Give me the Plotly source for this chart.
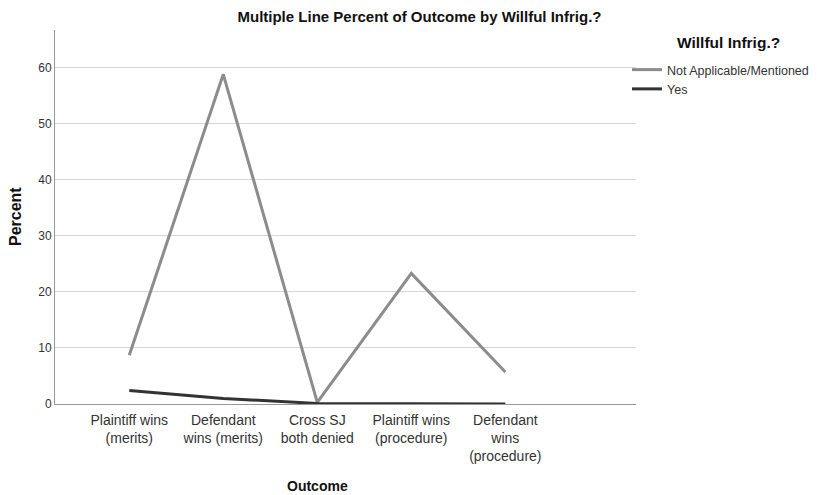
import plotly.graph_objects as go

categories = ["Plaintiff wins<br>(merits)", "Defendant<br>wins (merits)", "Cross SJ<br>both denied",
              "Plaintiff wins<br>(procedure)", "Defendant<br>wins<br>(procedure)"]
not_applicable = [8.7, 58.8, 0.3, 23.3, 5.7]
yes_vals = [2.4, 1.0, 0.1, 0.0, 0.0]
y_ticks = [0, 10, 20, 30, 40, 50, 60]

FONT = "Liberation Sans, Arial, sans-serif"
W, H = 810, 487  # page body has an 8px margin
PW, PH = 581, 374  # plot area size
xi = list(range(len(categories)))

fig = go.Figure()
fig.add_trace(go.Scatter(x=xi, y=not_applicable, mode="lines", name="Not Applicable/Mentioned",
                         line=dict(color="#8c8c8c", width=3)))
fig.add_trace(go.Scatter(x=xi, y=yes_vals, mode="lines", name="Yes",
                         line=dict(color="#333333", width=3)))

fig.update_layout(
    width=W, height=H,
    margin=dict(l=47, r=182, t=22, b=91, autoexpand=False),
    paper_bgcolor="white", plot_bgcolor="white",
    font=dict(family=FONT, color="#222"),
    title=dict(text="<b>Multiple Line Percent of Outcome by Willful Infrig.?</b>",
               x=411.5 / W, xanchor="center", y=1 - 8.5 / H, yanchor="middle",
               font=dict(size=15, color="#111")),
    xaxis=dict(range=[-0.79, 5.39], tickvals=xi, ticktext=categories, automargin=False,
               showgrid=False, zeroline=False, showline=True, linecolor="#999", linewidth=1,
               ticks="", ticklabelstandoff=3, tickfont=dict(size=14, color="#333")),
    yaxis=dict(range=[0, 66.7], tickvals=y_ticks, showgrid=True, gridcolor="#d6d6d6",
               zeroline=False, showline=True, linecolor="#999", linewidth=1, automargin=False,
               ticks="", tickfont=dict(size=12, color="#333")),
    legend=dict(xref="container", x=619 / W, xanchor="left", yref="container", y=1 - 47 / H, yanchor="top",
                font=dict(size=12.5, color="#333"), itemwidth=30, tracegroupgap=0,
                bgcolor="rgba(0,0,0,0)"),
    annotations=[
        dict(text="<b>Willful Infrig.?</b>", xref="paper", yref="paper",
             x=(720 - 47) / PW, y=1 - 12 / PH,
             xanchor="center", yanchor="middle", showarrow=False,
             font=dict(size=15.5, color="#111")),
        dict(text="<b>Percent</b>", xref="paper", yref="paper", x=-40 / PW, y=0.5,
             xanchor="center", yanchor="middle", textangle=-90, showarrow=False,
             font=dict(size=16, color="#111")),
        dict(text="<b>Outcome</b>", xref="paper", yref="paper", x=(309 - 47) / PW, y=-82 / PH,
             xanchor="center", yanchor="middle", showarrow=False,
             font=dict(size=14, color="#111")),
    ],
)

fig.write_html("out.html")
